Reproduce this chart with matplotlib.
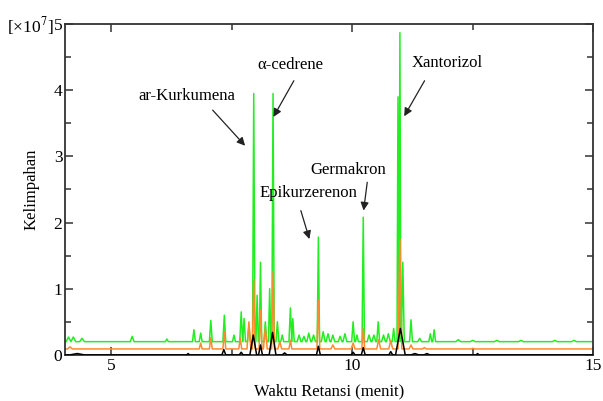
import numpy as np
import matplotlib
matplotlib.use("Agg")
import matplotlib.pyplot as plt
from matplotlib.ticker import MultipleLocator

plt.rcParams['font.family'] = ['Liberation Serif', 'DejaVu Serif']
plt.rcParams['mathtext.fontset'] = 'stix'

# ---- data (x10^7, minutes) ----
green_base = 0.2
green_t = [4.12, 4.22, 4.40, 5.44, 6.16, 6.72, 6.86, 7.07, 7.35, 7.55, 7.70, 7.76, 7.86,
           7.96, 8.03, 8.10, 8.20, 8.29, 8.36, 8.45, 8.55, 8.72, 8.77, 8.90, 9.00, 9.10,
           9.20, 9.30, 9.40, 9.50, 9.60, 9.75, 9.85, 10.02, 10.10, 10.23, 10.35, 10.45,
           10.54, 10.65, 10.75, 10.86, 10.95, 10.99, 11.05, 11.22, 11.40, 11.62, 11.70,
           12.20, 12.50, 13.00, 13.50, 14.20, 14.60]
green_h = [0.27, 0.27, 0.25, 0.28, 0.24, 0.38, 0.33, 0.52, 0.60, 0.30, 0.65, 0.55, 0.45,
           3.95, 0.90, 1.40, 0.50, 1.00, 3.95, 0.50, 0.30, 0.71, 0.55, 0.30, 0.28, 0.33,
           0.30, 1.78, 0.35, 0.32, 0.30, 0.28, 0.32, 0.50, 0.30, 2.08, 0.30, 0.30,
           0.50, 0.30, 0.32, 0.40, 3.90, 4.87, 1.40, 0.53, 0.25, 0.32, 0.38,
           0.23, 0.22, 0.22, 0.22, 0.22, 0.22]
green_w = [0.05, 0.05, 0.05, 0.04, 0.03, 0.03, 0.03, 0.03, 0.03, 0.03, 0.03, 0.03, 0.03,
           0.025, 0.025, 0.025, 0.03, 0.025, 0.025, 0.03, 0.03, 0.03, 0.03, 0.04, 0.04, 0.04,
           0.04, 0.025, 0.04, 0.04, 0.04, 0.04, 0.04, 0.03, 0.03, 0.025, 0.04, 0.04,
           0.03, 0.04, 0.04, 0.03, 0.02, 0.02, 0.03, 0.03, 0.04, 0.03, 0.03,
           0.05, 0.05, 0.05, 0.05, 0.05, 0.05]

orange_base = 0.09
orange_t = [4.15, 6.86, 7.07, 7.35, 7.68, 7.86, 7.96, 8.10, 8.20, 8.36, 8.50, 8.72,
            9.30, 9.60, 10.02, 10.23, 10.55, 10.80, 10.99, 11.22, 11.50, 12.50]
orange_h = [0.12, 0.18, 0.26, 0.35, 0.26, 0.50, 1.13, 0.68, 0.40, 1.25, 0.20, 0.22,
            0.83, 0.15, 0.18, 0.40, 0.23, 0.22, 1.75, 0.15, 0.11, 0.10]
orange_w = [0.05, 0.03, 0.03, 0.03, 0.03, 0.04, 0.03, 0.03, 0.04, 0.03, 0.04, 0.03,
            0.03, 0.04, 0.04, 0.03, 0.04, 0.04, 0.04, 0.04, 0.04, 0.03]

black_base = 0.0
black_t = [4.30, 6.60, 7.34, 7.70, 7.95, 8.10, 8.35, 8.60, 9.30, 10.02, 10.23, 10.80,
           11.00, 11.30, 11.55, 12.60]
black_h = [0.02, 0.02, 0.08, 0.04, 0.30, 0.15, 0.34, 0.03, 0.13, 0.04, 0.11, 0.05,
           0.40, 0.02, 0.02, 0.02]
black_w = [0.15, 0.03, 0.04, 0.04, 0.07, 0.04, 0.07, 0.05, 0.04, 0.04, 0.04, 0.04,
           0.10, 0.08, 0.06, 0.03]

labels = ['ar-Kurkumena', '\u03b1-cedrene', 'Epikurzerenon', 'Germakron', 'Xantorizol']
label_xy = [(6.58, 3.91), (8.72, 4.38), (9.09, 2.45), (9.92, 2.79), (11.98, 4.41)]
tail_xy = [(7.07, 3.73), (8.82, 4.18), (8.92, 2.22), (10.32, 2.65), (11.53, 4.18)]
head_xy = [(7.82, 3.13), (8.34, 3.56), (9.13, 1.71), (10.23, 2.14), (11.05, 3.57)]


def trace(ts, hs, ws, base, x0=4.05, x1=15.0):
    xs, ys = [x0], [base]
    for t, h, w in zip(ts, hs, ws):
        xs += [t - w, t, t + w]
        ys += [base, h, base]
    xs.append(x1)
    ys.append(base)
    return np.array(xs), np.array(ys)


fig = plt.figure(figsize=(6.03, 4.01), dpi=100)
ax = fig.add_axes([0.108, 0.115, 0.876, 0.825])

for ts, hs, ws, b, c, z in [(black_t, black_h, black_w, black_base, 'black', 3),
                            (orange_t, orange_h, orange_w, orange_base, '#ff8a2e', 2),
                            (green_t, green_h, green_w, green_base, '#22ee22', 1)]:
    x, y = trace(ts, hs, ws, b)
    ax.plot(x, y, color=c, lw=1.1, zorder=z)

for lab, lxy, txy, hxy in zip(labels, label_xy, tail_xy, head_xy):
    ax.text(lxy[0], lxy[1], lab, fontsize=12, ha='center', va='center')
    ax.annotate('', xy=hxy, xytext=txy,
                arrowprops=dict(arrowstyle='-|>', color='#222222', lw=0.9,
                                mutation_scale=12))

ax.set_xlim(4.05, 15.0)
ax.set_ylim(0, 5)
ax.xaxis.set_major_locator(MultipleLocator(5))
ax.xaxis.set_minor_locator(MultipleLocator(2.5))
ax.yaxis.set_major_locator(MultipleLocator(1))
ax.yaxis.set_minor_locator(MultipleLocator(0.5))
ax.tick_params(which='both', direction='in', top=True, right=True,
               color='#333333', labelsize=12.5, pad=2)
ax.tick_params(which='major', length=6, width=1.1)
ax.tick_params(which='minor', length=4, width=1.1)
for s in ax.spines.values():
    s.set_color('#333333')
    s.set_linewidth(1.3)

ax.set_xlabel('Waktu Retansi (menit)', fontsize=12, labelpad=7)
ax.set_ylabel('Kelimpahan', fontsize=12, labelpad=10)
fig.text(0.012, 0.935, '[\u00d710$^{7}$]', fontsize=12.5, ha='left', va='center')

fig.savefig('out.png', dpi=100)
